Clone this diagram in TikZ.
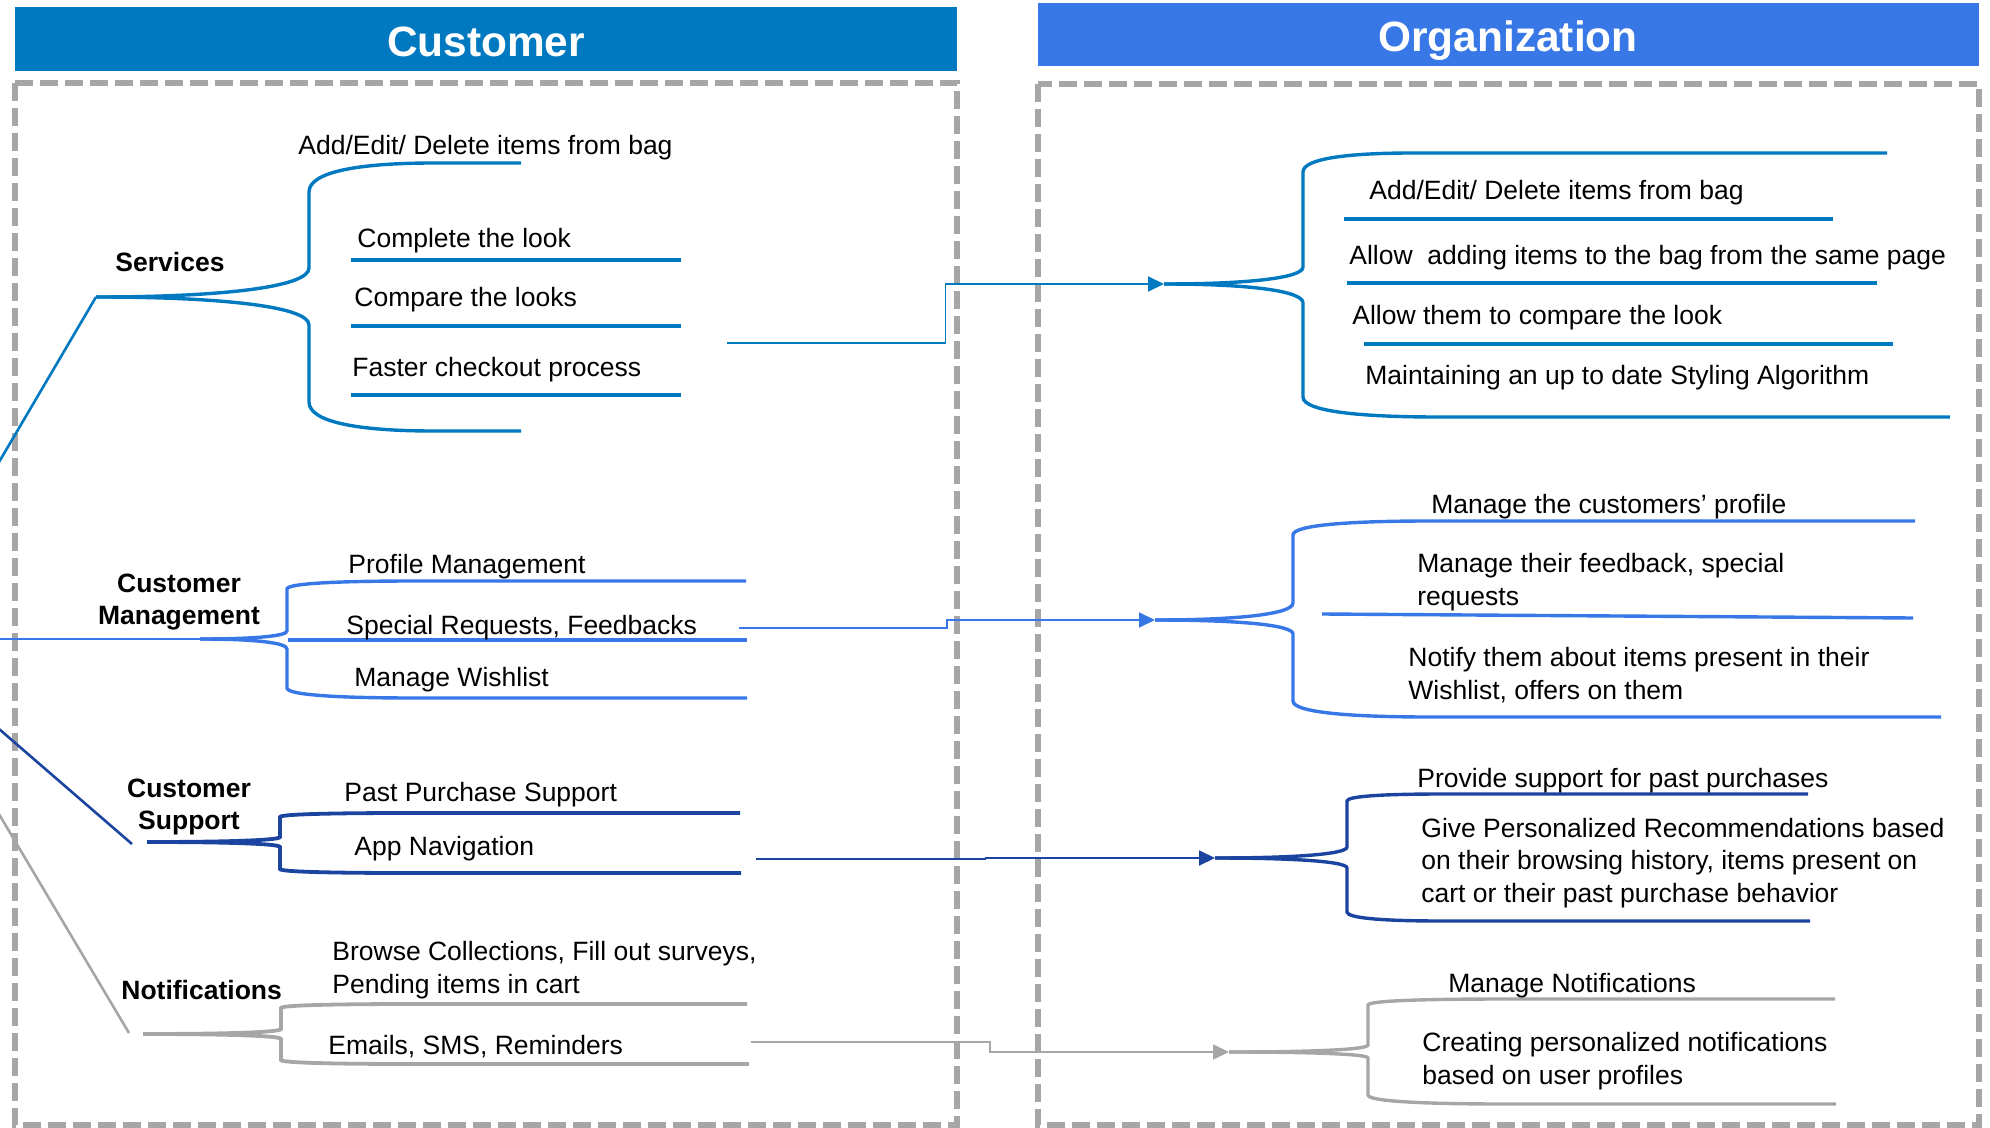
\documentclass[tikz,border=0pt]{standalone}
\usepackage{fontspec}
\setmainfont{Liberation Sans}
\usetikzlibrary{arrows.meta,calc}
\definecolor{cblue}{RGB}{0,121,193}
\definecolor{oblue}{RGB}{56,120,230}
\definecolor{dblue}{RGB}{26,68,160}
\definecolor{ngray}{RGB}{166,166,166}
\definecolor{bgray}{RGB}{166,166,166}
% half brace: x0 y0 xb yv ye ry rx xe
\newcommand\halfbr[8]{%
  \draw (#1,#2) .. controls ({#1+0.6*(#3-#1)},#2) and (#3,{#2+0.35*(#4-#2)}) .. (#3,#4)
    -- (#3,{#5+(#6)}) .. controls (#3,{#5+0.3*(#6)}) and ({#3+0.4*#7},#5) .. ({#3+#7},#5) -- (#8,#5);}
\begin{document}
\begin{tikzpicture}[x=0.5pt,y=-0.5pt,
  txt/.style={font=\fontsize{13.25}{16.2}\selectfont, inner sep=0pt, anchor=base west, align=left},
  lbl/.style={font=\fontsize{13.25}{15.8}\selectfont\bfseries, inner sep=0pt, anchor=base, align=center},
  hdr/.style={font=\fontsize{21.2}{25}\selectfont\bfseries, text=white, inner sep=0pt, anchor=base},
  box/.style={draw=bgray, line width=2.6pt, dash pattern=on 9pt off 3.5pt},
  brline/.style={line width=1.7pt},
  hubline/.style={line width=1.3pt},
  conn/.style={line width=0.9pt, -{Triangle[length=8pt,width=7.5pt]}},
  grpsvc/.style={draw=cblue, color=cblue},
  grpcm/.style={draw=oblue, color=oblue},
  grpsp/.style={draw=dblue, color=dblue},
  grpnt/.style={draw=ngray, color=ngray}]
\useasboundingbox (0,0) rectangle (1990,1128);
\clip (0,0) rectangle (1990,1128);

% headers
\fill[cblue] (15,7) rectangle (957,71);
\node[hdr] (hc) at (486,57) {Customer};
\fill[oblue] (1038,3) rectangle (1979,66);
\node[hdr] (ho) at (1508,52) {Organization};

% dashed boxes
\draw[box] (15,83) rectangle (957,1125);
\draw[box] (1038,84) rectangle (1979,1125);

% hub and roots
\coordinate (hub) at (-105,639);
\coordinate (rs) at (96,297);
\coordinate (rcm) at (200,639);
\coordinate (dsp) at (132,844);
\coordinate (dnt) at (129,1033);
\draw[hubline, grpsvc] (hub) -- (rs);
\draw[hubline, grpcm] (hub) -- (rcm);
\draw[hubline, grpsp] (hub) -- (dsp);
\draw[hubline, grpnt] (hub) -- (dnt);

% ---------- Services (customer)
\begin{scope}[brline, grpsvc]
\halfbr{96}{297}{309}{268}{163}{29}{125}{521}
\halfbr{96}{297}{309}{325}{431}{-29}{125}{521}
\draw (351,260) -- (681,260);
\draw (351,326) -- (681,326);
\draw (351,395) -- (681,395);
\end{scope}
\node[lbl] (ls) at (170,272) {Services};
\node[txt] (s1) at (298,155) {Add/Edit/ Delete items from bag};
\node[txt] (s2) at (357,248) {Complete the look};
\node[txt] (s3) at (354,307) {Compare the looks};
\node[txt] (s4) at (352,377) {Faster checkout process};

% ---------- Services (organization)
\begin{scope}[brline, grpsvc]
\halfbr{1164}{284}{1303}{267}{153}{19}{110}{1887}
\halfbr{1164}{284}{1303}{303}{417}{-20}{135}{1950}
\draw (1344,219) -- (1833,219);
\draw (1347,283) -- (1877,283);
\draw (1364,344) -- (1893,344);
\end{scope}
\node[txt] (os1) at (1369,200) {Add/Edit/ Delete items from bag};
\node[txt] (os2) at (1349,265) {Allow~ adding items to the bag from the same page};
\node[txt] (os3) at (1352,325) {Allow them to compare the look};
\node[txt] (os4) at (1365,385) {Maintaining an up to date Styling Algorithm};

% ---------- Customer Management (customer)
\begin{scope}[brline, grpcm]
\halfbr{200}{639}{287}{631}{581}{8}{128}{746}
\halfbr{200}{639}{287}{649}{698}{-10}{128}{747}
\draw (288,640) -- (747,640);
\end{scope}
\node[lbl] (lcm) at (179,624) {Customer\\Management};
\node[txt] (m1) at (348,573) {Profile Management};
\node[txt] (m2) at (346,634) {Special Requests, Feedbacks};
\node[txt] (m3) at (354,686) {Manage Wishlist};

% ---------- Customer Management (organization)
\begin{scope}[brline, grpcm]
\halfbr{1155}{620}{1293}{603}{521}{14}{137}{1915}
\halfbr{1155}{620}{1293}{634}{717}{-16}{137}{1941}
\draw (1322,614) -- (1913,618);
\end{scope}
\node[txt] (om1) at (1431,513) {Manage the customers’ profile};
\node[txt] (om2) at (1417,605) {Manage their feedback, special\\requests};
\node[txt] (om3) at (1408,699) {Notify them about items present in their\\Wishlist, offers on them};

% ---------- Customer Support (customer)
\begin{scope}[line width=1.9pt, grpsp]
\halfbr{147}{842}{280}{837}{813}{4}{129}{740}
\halfbr{147}{842}{280}{847}{873}{-4}{129}{741}
\end{scope}
\node[lbl] (lsp) at (189,829) {Customer\\Support};
\node[txt] (p1) at (344,801) {Past Purchase Support};
\node[txt] (p2) at (354,855) {App Navigation};

% ---------- Customer Support (organization)
\begin{scope}[brline, grpsp]
\halfbr{1215}{858}{1347}{847}{794}{7}{95}{1808}
\halfbr{1215}{858}{1347}{868}{921}{-9}{95}{1810}
\end{scope}
\node[txt] (op1) at (1417,787) {Provide support for past purchases};
\node[txt] (op2) at (1421,902) {Give Personalized Recommendations based\\on their browsing history, items present on\\cart or their past purchase behavior};

% ---------- Notifications (customer)
\begin{scope}[line width=1.9pt, grpnt]
\halfbr{143}{1034}{281}{1029}{1004}{4}{134}{747}
\halfbr{143}{1034}{281}{1039}{1064}{-4}{134}{749}
\end{scope}
\node[lbl, anchor=base west] (lnt) at (121,999) {Notifications};
\node[txt] (n1) at (332,993) {Browse Collections, Fill out surveys,\\Pending items in cart};
\node[txt] (n2) at (328,1054) {Emails, SMS, Reminders};

% ---------- Notifications (organization)
\begin{scope}[brline, grpnt]
\halfbr{1229}{1052}{1368}{1045}{999}{6}{137}{1835}
\halfbr{1229}{1052}{1368}{1058}{1104}{-9}{137}{1836}
\end{scope}
\node[txt] (on1) at (1448,992) {Manage Notifications};
\node[txt] (on2) at (1422,1084) {Creating personalized notifications\\based on user profiles};

% ---------- connectors
\coordinate (cs) at (727,343);   \coordinate (ts) at (1164,284);
\coordinate (ccm) at (739,628);  \coordinate (tcm) at (1155,620);
\coordinate (csp) at (756,859);  \coordinate (tsp) at (1215,858);
\coordinate (cnt) at (751,1042); \coordinate (tnt) at (1229,1052);
\draw[conn, grpsvc] (cs) -| ($(cs)!.5!(ts)$) |- (ts);
\draw[conn, grpcm] (ccm) -| ($(ccm)!.5!(tcm)$) |- (tcm);
\draw[conn, grpsp] (csp) -| ($(csp)!.5!(tsp)$) |- (tsp);
\draw[conn, grpnt] (cnt) -| ($(cnt)!.5!(tnt)$) |- (tnt);
\end{tikzpicture}
\end{document}
